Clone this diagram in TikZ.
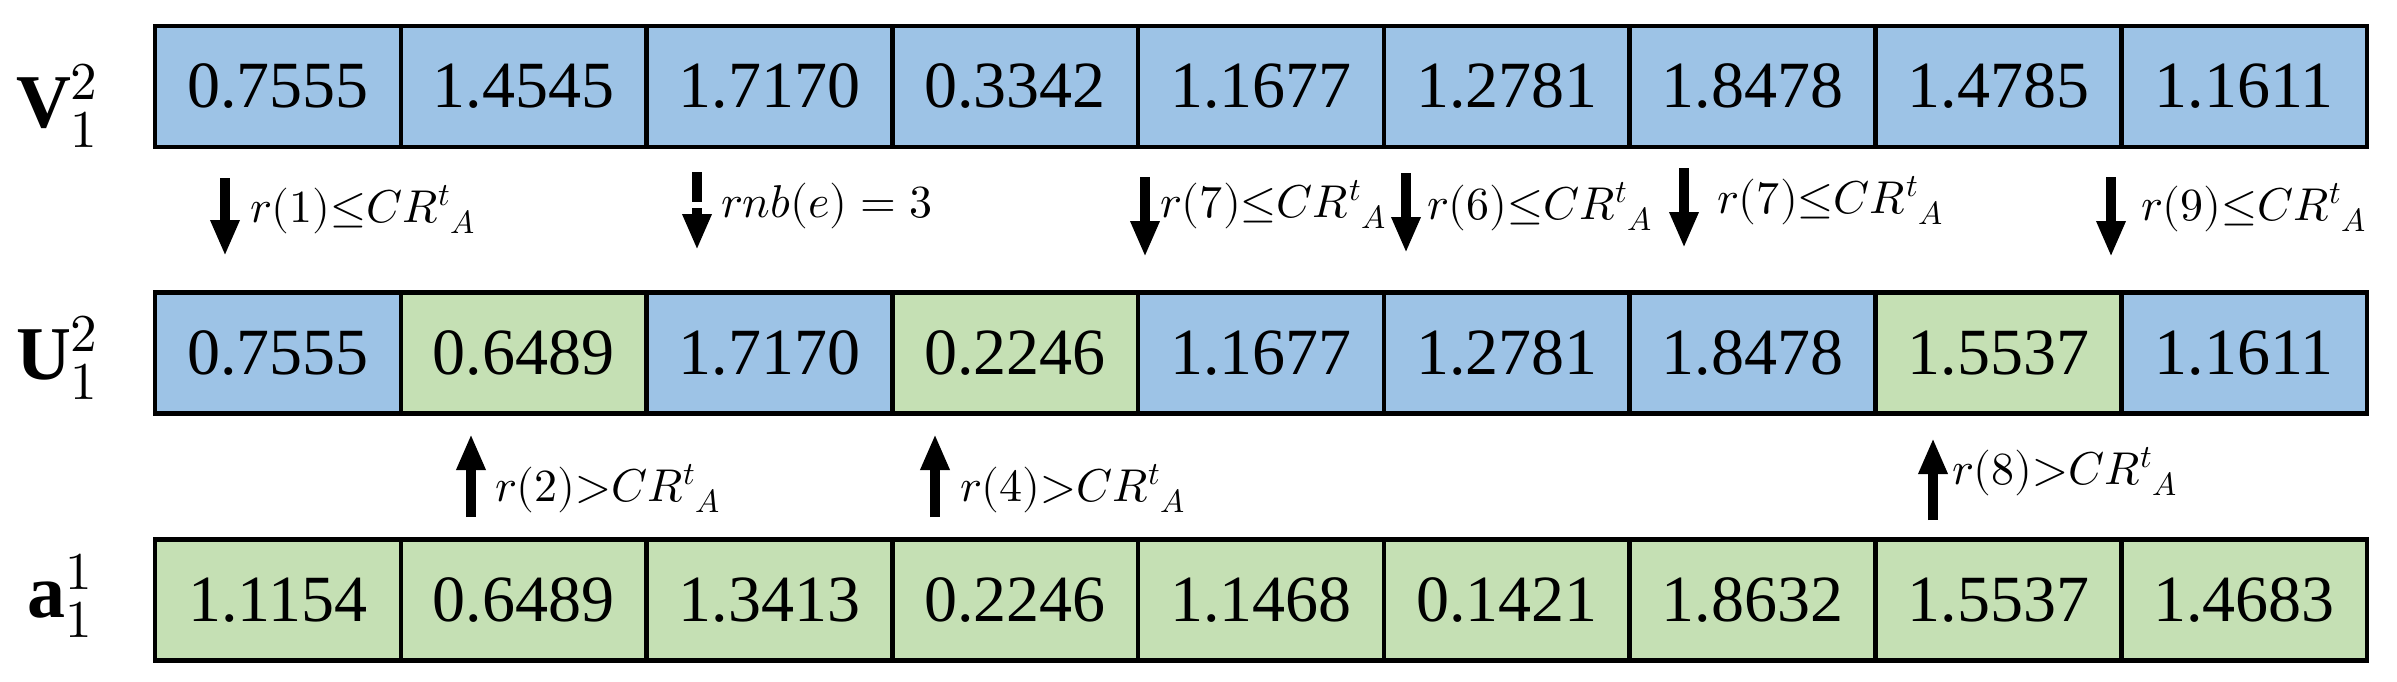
\documentclass[tikz,border=0pt]{standalone}
\usepackage{fontspec}
\usepackage{unicode-math}
\setmainfont{Liberation Serif}
\setmathfont{Latin Modern Math}
\usetikzlibrary{arrows.meta}
\definecolor{cblue}{RGB}{157,195,230}
\definecolor{cgreen}{RGB}{197,224,180}
\tikzset{
 cell/.style={draw=black, line width=4.5pt, minimum width=245.78pt, minimum height=121pt, inner sep=0pt, font=\fontsize{66}{80}\selectfont},
 cellb/.style={cell, fill=cblue},
 cellg/.style={cell, fill=cgreen},
 rowlabel/.style={font=\fontsize{76}{90}\selectfont, inner sep=0pt},
 cond/.style={font=\fontsize{46}{52}\selectfont, inner sep=0pt, anchor=base west},
 flow/.style={line width=10pt, -{Triangle[length=36pt,width=27pt]}},
}
\begin{document}
\begin{tikzpicture}[x=1pt,y=-1pt]
\useasboundingbox (0,0) rectangle (2397,682);
% rows
\foreach \v [count=\i] in {0.7555,1.4545,1.7170,0.3342,1.1677,1.2781,1.8478,1.4785,1.1611}
  \node[cellb] (v\i) at ({155+245.78*(\i-0.5)},86.5) {\v};
\foreach \v/\c [count=\i] in {0.7555/b,0.6489/g,1.7170/b,0.2246/g,1.1677/b,1.2781/b,1.8478/b,1.5537/g,1.1611/b}
  \node[cell\c] (u\i) at ({155+245.78*(\i-0.5)},353) {\v};
\foreach \v [count=\i] in {1.1154,0.6489,1.3413,0.2246,1.1468,0.1421,1.8632,1.5537,1.4683}
  \node[cellg] (a\i) at ({155+245.78*(\i-0.5)},600) {\v};
% row labels
\node[rowlabel] (lv) at (57,106) {$\mathbf{V}_1^2$};
\node[rowlabel] (lu) at (57,358) {$\mathbf{U}_1^2$};
\node[rowlabel] (la) at (60,596) {$\mathbf{a}_1^1$};
% down arrows
\coordinate (d1s) at (225,178);  \coordinate (d1e) at (225,256);
\coordinate (d2s) at (697,172);  \coordinate (d2e) at (697,250);
\coordinate (d3s) at (1145,177); \coordinate (d3e) at (1145,257);
\coordinate (d4s) at (1406,173); \coordinate (d4e) at (1406,253);
\coordinate (d5s) at (1684,168); \coordinate (d5e) at (1684,248);
\coordinate (d6s) at (2111,177); \coordinate (d6e) at (2111,257);
\draw[flow] (d1s) -- (d1e);
\draw[flow, dash pattern=on 30pt off 6pt] (d2s) -- (d2e);
\draw[flow] (d3s) -- (d3e);
\draw[flow] (d4s) -- (d4e);
\draw[flow] (d5s) -- (d5e);
\draw[flow] (d6s) -- (d6e);
\node[cond] (c1) at (250,222) {$r(1){\leq}CR^{t}{}_{A}$};
\node[cond] (c2) at (721,217) {$rnb(e) = 3$};
\node[cond] (c3) at (1160,217) {$r(7){\leq}CR^{t}{}_{A}$};
\node[cond] (c4) at (1427,219) {$r(6){\leq}CR^{t}{}_{A}$};
\node[cond] (c5) at (1717,213) {$r(7){\leq}CR^{t}{}_{A}$};
\node[cond] (c6) at (2141,220) {$r(9){\leq}CR^{t}{}_{A}$};
% up arrows
\coordinate (p1s) at (471,517);  \coordinate (p1e) at (471,434);
\coordinate (p2s) at (935,517);  \coordinate (p2e) at (935,434);
\coordinate (p3s) at (1933,520); \coordinate (p3e) at (1933,438);
\draw[flow] (p1s) -- (p1e);
\draw[flow] (p2s) -- (p2e);
\draw[flow] (p3s) -- (p3e);
\node[cond] (e1) at (495,501) {$r(2){>}CR^{t}{}_{A}$};
\node[cond] (e2) at (960,501) {$r(4){>}CR^{t}{}_{A}$};
\node[cond] (e3) at (1952,484) {$r(8){>}CR^{t}{}_{A}$};
\end{tikzpicture}
\end{document}
